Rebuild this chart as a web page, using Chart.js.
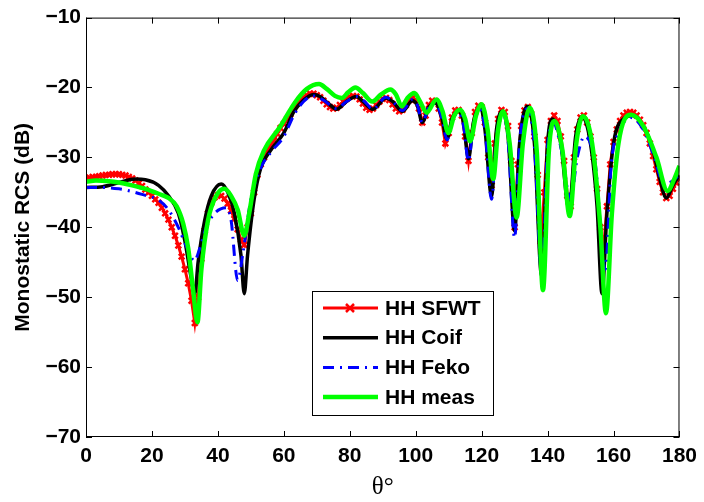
<!DOCTYPE html>
<html>
<head>
<meta charset="utf-8">
<script src="https://cdn.jsdelivr.net/npm/chart.js@4.4.1/dist/chart.umd.min.js"></script>
<style>
    html, body { margin: 0; padding: 0; background: #fff; }
</style>
</head>
<body>
<canvas id="graphCanvas" width="704" height="502"></canvas>
<script>
//--------------------- DATA -------------------------
// HH SFWT : one sample per degree
const sfwtAngle = Array.from({ length: 181 }, (v, i) => i);
const sfwtRcs = [
    -33.0, -32.9, -32.8, -32.8, -32.7, -32.6, -32.5, -32.5, -32.4, -32.4, -32.4,
    -32.5, -32.6, -32.8, -33.0, -33.3, -33.7, -34.1, -34.6, -35.0, -35.5,
    -36.0, -36.5, -37.2, -38.0, -38.9, -40.0, -41.2, -42.6, -44.2, -46.0,
    -48.0, -50.5, -53.7, -50.0, -44.5, -40.5, -38.0, -36.5, -35.7, -35.4,
    -35.5, -35.9, -36.6, -37.6, -38.8, -40.3, -41.8, -42.5, -40.0, -38.0,
    -35.0, -32.5, -31.0, -30.0, -29.0, -28.3, -27.6, -26.6, -25.8, -25.2,
    -24.5, -23.8, -23.0, -22.3, -21.8, -21.4, -21.1, -20.9, -20.9, -21.1,
    -21.4, -21.9, -22.4, -22.8, -23.0, -22.9, -22.5, -22.0, -21.6, -21.3,
    -21.2, -21.3, -21.7, -22.3, -22.9, -23.2, -23.0, -22.5, -22.0, -21.6,
    -21.5, -21.8, -22.4, -23.0, -23.4, -23.2, -22.5, -21.8, -21.5, -21.8,
    -23.0, -25.0, -24.0, -22.5, -21.9, -22.0, -23.0, -25.0, -28.0, -26.5,
    -24.3, -23.3, -23.2, -24.0, -27.0, -30.5, -26.5, -23.5, -22.6, -22.8,
    -25.0, -30.0, -34.0, -28.0, -24.5, -23.2, -23.5, -25.5, -30.5, -40.0,
    -31.0, -25.5, -23.3, -22.8, -23.8, -27.0, -32.5, -42.0, -35.0, -27.5,
    -24.8, -24.0, -24.8, -27.0, -30.5, -35.5, -37.0, -30.0, -26.0, -24.3,
    -24.0, -25.0, -27.0, -30.0, -34.5, -40.0, -43.0, -37.0, -31.0, -27.8,
    -26.0, -24.8, -24.0, -23.6, -23.5, -23.6, -24.0, -24.6, -25.4, -26.5,
    -28.0, -29.8, -31.7, -33.5, -35.0, -35.8, -35.5, -34.5, -33.6, -33.0
];

// HH Coif
const coifAngle = [0, 5, 10, 15, 18, 22, 25, 28, 30, 32, 33, 34, 36, 38, 41, 43, 45, 47, 48, 49,
    51, 53, 56, 60, 63, 66, 69, 71, 74, 76, 79, 82, 84, 87, 91, 93, 96, 99, 100.5, 102,
    104, 106, 108, 109.5, 111, 113, 114.5, 116, 117.5, 119.5, 121, 123, 124.5, 126.5, 128, 130, 131.5, 134, 136, 138.2,
    140, 141.5, 144, 146.5, 148.5, 150.5, 153, 155, 156.5, 158, 160, 163, 166, 169, 172, 174, 176, 178, 180];
const coifRcs = [-34.3, -34.2, -33.6, -33.1, -33.2, -34.0, -35.5, -38.0, -42.0, -47.5, -49.5, -45.0, -39.0, -35.5, -33.8, -35.0, -38.0, -44.0, -49.5, -44.0,
    -36.0, -31.5, -29.0, -26.5, -23.5, -21.8, -21.0, -21.3, -22.5, -23.1, -22.0, -21.3, -22.0, -23.1, -21.5, -22.0, -23.4, -21.9, -22.6, -25.0,
    -22.8, -22.2, -24.5, -27.4, -24.5, -23.4, -25.0, -30.2, -25.0, -22.9, -26.0, -35.5, -26.0, -23.4, -27.0, -40.5, -28.0, -22.7, -28.0, -47.0,
    -28.0, -24.5, -28.0, -37.5, -27.0, -24.2, -28.0, -37.0, -49.5, -38.0, -28.0, -24.5, -24.0, -25.5, -29.0, -33.0, -35.8, -34.0, -32.5];

// HH Feko
const fekoAngle = [0, 5, 10, 13.3, 17, 22.3, 25, 28, 30.5, 32.9, 34.5, 36.5, 39, 42.6, 44, 46, 47.5, 50, 53, 56,
    60, 63, 66, 69, 72, 76, 79, 82, 84.5, 87, 91, 93, 96, 99, 100.5, 102, 104, 106, 108, 109.5,
    111, 113, 114.5, 116, 117.5, 119.5, 121, 123, 124.5, 126.5, 128, 130, 131.5, 134, 136, 138.3, 140, 141.7, 144, 147,
    149, 151.2, 153, 154.5, 157.5, 159.3, 161.5, 165.3, 169, 172, 175.4, 177.5, 179.5];
const fekoRcs = [-34.3, -34.3, -34.5, -34.8, -35.3, -36.2, -37.5, -40.0, -42.8, -44.8, -43.0, -40.0, -38.0, -37.2, -39.0, -47.6, -44.0, -36.0, -31.5, -29.3,
    -27.0, -24.0, -22.0, -21.2, -21.8, -23.0, -22.0, -21.3, -22.0, -23.1, -21.4, -22.0, -23.3, -21.7, -22.5, -25.0, -22.8, -22.3, -24.5, -27.5,
    -24.8, -23.6, -25.5, -30.5, -25.3, -23.2, -26.0, -36.0, -27.0, -23.7, -27.5, -41.5, -28.0, -23.0, -28.5, -47.0, -28.5, -25.0, -28.5, -36.0,
    -30.0, -27.0, -28.0, -31.0, -46.0, -31.0, -26.5, -24.3, -26.0, -29.5, -33.8, -33.5, -32.7];

// HH meas
const measAngle = [0, 3, 7, 10, 14, 18, 22, 25, 27.5, 29.5, 31, 32.5, 33.8, 35, 37, 39.5, 42, 44, 46, 48,
    49.5, 51.5, 54, 58.6, 63.6, 67, 70.7, 73, 75.5, 77.6, 79.5, 81.7, 84, 86.8, 89.5, 92.3, 94, 95.8, 97.5, 99.6,
    101.3, 103.3, 106.3, 108.2, 109.9, 111.7, 113.5, 115, 116.5, 118.3, 120, 121.8, 123.5, 125, 126.5, 128.5, 130.6, 132.5, 134.6, 136.7,
    138.6, 140.4, 142.1, 144.5, 146.7, 148.7, 150.7, 153.5, 156, 157.7, 159.5, 161.5, 165.3, 169, 173, 176.4, 178.5, 180];
const measRcs = [-33.5, -33.3, -33.4, -33.6, -34.0, -34.5, -35.2, -35.8, -37.0, -39.5, -43.0, -49.0, -53.6, -46.0, -39.0, -35.5, -34.5, -35.5, -37.5, -41.2,
    -38.0, -32.4, -29.0, -25.8, -22.0, -20.2, -19.5, -20.2, -21.2, -21.5, -20.7, -20.0, -20.8, -22.0, -21.0, -20.3, -21.0, -22.7, -21.5, -20.8,
    -22.0, -23.6, -21.7, -23.5, -26.5, -24.0, -23.2, -24.5, -27.7, -24.0, -22.4, -26.0, -33.1, -26.0, -23.4, -28.0, -38.6, -28.0, -22.9, -29.0,
    -49.0, -29.0, -24.8, -29.0, -38.4, -28.0, -24.1, -28.0, -40.0, -52.3, -38.0, -28.0, -23.9, -25.5, -30.0, -34.8, -33.0, -31.2];

const xTicks = [0, 20, 40, 60, 80, 100, 120, 140, 160, 180];
const yTicks = [-70, -60, -50, -40, -30, -20, -10];

const pair = (xs, ys) => xs.map((v, i) => ({ x: v, y: ys[i] }));

//--------------------- FRAME + LEGEND (matlab style) -------------------------
const matlabFrame = {
    id: 'matlabFrame',
    afterDraw(chart) {
        const { ctx, chartArea: a, scales: { x, y } } = chart;
        ctx.save();
        ctx.strokeStyle = '#000';
        ctx.lineWidth = 1;
        ctx.strokeRect(a.left + 0.5, a.top + 0.5, a.right - a.left - 1, a.bottom - a.top - 1);
        ctx.beginPath();
        xTicks.forEach(t => {
            const px = Math.round(x.getPixelForValue(t)) + 0.5;
            ctx.moveTo(px, a.bottom); ctx.lineTo(px, a.bottom - 6);
            ctx.moveTo(px, a.top); ctx.lineTo(px, a.top + 6);
        });
        yTicks.forEach(t => {
            const py = Math.round(y.getPixelForValue(t)) + 0.5;
            ctx.moveTo(a.left, py); ctx.lineTo(a.left + 6, py);
            ctx.moveTo(a.right, py); ctx.lineTo(a.right - 6, py);
        });
        ctx.stroke();

        // legend box
        const bx = 312, by = 291, bw = 181, bh = 124;
        ctx.fillStyle = '#fff';
        ctx.fillRect(bx, by, bw, bh);
        ctx.strokeRect(bx + 0.5, by + 0.5, bw, bh);
        ctx.font = 'bold 21px "Liberation Sans", Arial, sans-serif';
        ctx.textBaseline = 'middle';
        chart.data.datasets.forEach((ds, i) => {
            const ry = by + 17 + i * 29.7;
            ctx.save();
            ctx.strokeStyle = ds.borderColor;
            ctx.lineWidth = ds.borderWidth;
            ctx.setLineDash(ds.borderDash || []);
            ctx.beginPath();
            ctx.moveTo(bx + 11, ry); ctx.lineTo(bx + 66, ry);
            ctx.stroke();
            ctx.restore();
            if (ds.pointRadius > 0) {
                const cx = bx + 38, r = ds.pointRadius;
                ctx.save();
                ctx.strokeStyle = ds.pointBorderColor;
                ctx.lineWidth = ds.pointBorderWidth;
                ctx.beginPath();
                ctx.moveTo(cx - r, ry - r); ctx.lineTo(cx + r, ry + r);
                ctx.moveTo(cx - r, ry + r); ctx.lineTo(cx + r, ry - r);
                ctx.stroke();
                ctx.restore();
            }
            ctx.fillStyle = '#000';
            ctx.fillText(ds.label, bx + 73, ry + 1);
        });
        ctx.restore();
    }
};

// SETUP BLOCK
const data = {
    datasets: [{
        label: 'HH SFWT',
        data: pair(sfwtAngle, sfwtRcs),
        borderColor: '#ff0000',
        borderWidth: 3,
        pointStyle: 'crossRot',
        pointRadius: 4,
        pointBorderColor: '#ff0000',
        pointBorderWidth: 2.5,
        tension: 0,
        order: 3
    }, {
        label: 'HH Coif',
        data: pair(coifAngle, coifRcs),
        borderColor: '#000000',
        borderWidth: 3.5,
        pointRadius: 0,
        cubicInterpolationMode: 'monotone',
        order: 2
    }, {
        label: 'HH Feko',
        data: pair(fekoAngle, fekoRcs),
        borderColor: '#0000ff',
        borderWidth: 3,
        borderDash: [11, 6, 2, 6],
        pointRadius: 0,
        cubicInterpolationMode: 'monotone',
        order: 1
    }, {
        label: 'HH meas',
        data: pair(measAngle, measRcs),
        borderColor: '#00ff00',
        borderWidth: 4.5,
        pointRadius: 0,
        cubicInterpolationMode: 'monotone',
        order: 0
    }]
};

// CONFIG BLOCK
const tickFont = { family: '"Liberation Sans", Arial, sans-serif', size: 21, weight: 'bold' };
const config = {
    type: 'line',
    data,
    options: {
        responsive: false,
        animation: false,
        layout: { padding: { top: 16, right: 22, left: 0, bottom: 0 } },
        plugins: { legend: { display: false }, tooltip: { enabled: false } },
        scales: {
            x: {
                type: 'linear',
                min: 0, max: 180,
                afterBuildTicks: s => { s.ticks = xTicks.map(v => ({ value: v })); },
                afterFit: s => { s.height = 65; },
                grid: { display: false, drawTicks: false },
                border: { display: false },
                ticks: { color: '#000', font: tickFont, padding: 7, maxRotation: 0 },
                title: {
                    display: true, text: 'θ°', color: '#000',
                    font: { family: '"Liberation Serif", serif', size: 25 },
                    padding: { top: 0, bottom: 0 }
                }
            },
            y: {
                min: -70, max: -10,
                afterBuildTicks: s => { s.ticks = yTicks.map(v => ({ value: v })); },
                afterFit: s => { s.width = 86; },
                grid: { display: false, drawTicks: false },
                border: { display: false },
                ticks: { color: '#000', font: tickFont, padding: 5, callback: v => String(v).replace('-', '\u2212') },
                title: {
                    display: true, text: 'Monostatic RCS (dB)', color: '#000',
                    font: { family: '"Liberation Sans", Arial, sans-serif', size: 21, weight: 'bold' },
                    padding: { top: 11, bottom: 0 }
                }
            }
        }
    },
    plugins: [matlabFrame]
};

// RENDER BLOCK
const graphCanvas = new Chart(
    document.getElementById('graphCanvas').getContext('2d'),
    config
);
</script>
</body>
</html>
